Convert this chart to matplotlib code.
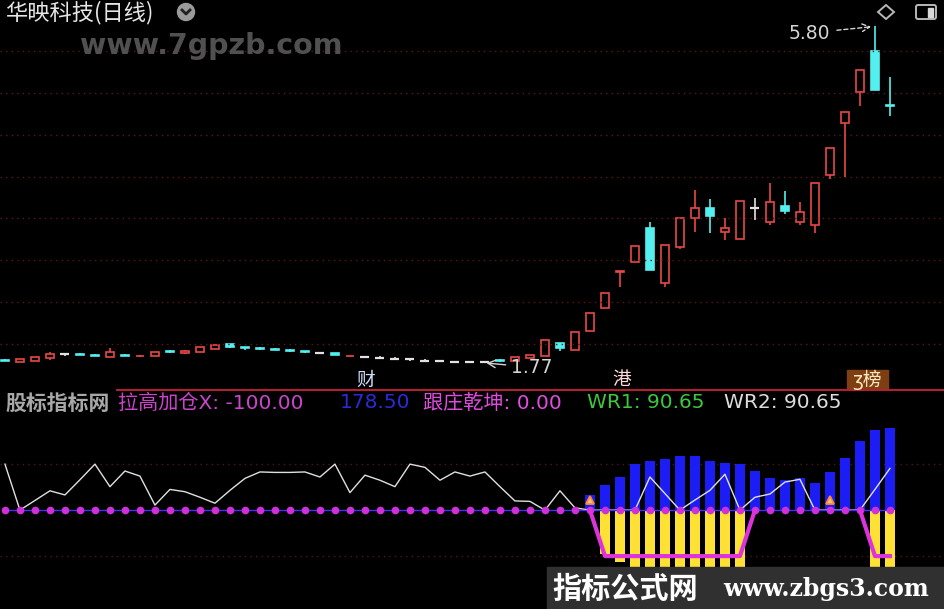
import matplotlib
matplotlib.use("Agg")
import matplotlib.pyplot as plt
import numpy as np
from matplotlib.patches import Circle, FancyBboxPatch, Polygon, Rectangle

plt.rcParams["font.family"] = ["DejaVu Sans", "Noto Sans CJK SC"]
CJK = ["Noto Sans CJK SC", "DejaVu Sans"]

W_PX, H_PX = 945, 609
SPLIT_PX = 389

# ---- daily candles (yuan) ----
opens = [1.81, 1.78, 1.80, 1.83, 1.88, 1.88, 1.87, 1.84, 1.87, 1.85,
         1.85, 1.91, 1.89, 1.90, 1.94, 2.00, 1.96, 1.95, 1.94, 1.93,
         1.91, 1.89, 1.89, 1.85, 1.84, 1.83, 1.82, 1.82, 1.80, 1.80,
         1.78, 1.78, 1.78, 1.81, 1.80, 1.83, 1.85, 2.01, 1.93, 2.15,
         2.43, 2.86, 2.98, 3.39, 2.73, 3.16, 3.50, 3.62, 3.34, 3.25,
         3.62, 3.46, 3.65, 3.46, 3.42, 4.02, 4.64, 5.01, 5.50, 4.85]
highs = [1.82, 1.82, 1.84, 1.90, 1.89, 1.89, 1.88, 1.95, 1.88, 1.87,
         1.90, 1.93, 1.93, 1.96, 1.98, 2.00, 1.96, 1.96, 1.95, 1.94,
         1.92, 1.89, 1.89, 1.86, 1.84, 1.86, 1.84, 1.83, 1.82, 1.81,
         1.79, 1.78, 1.79, 1.82, 1.84, 1.87, 2.04, 2.01, 2.14, 2.37,
         2.61, 2.87, 3.17, 3.46, 3.18, 3.50, 3.84, 3.73, 3.50, 3.71,
         3.74, 3.92, 3.83, 3.69, 3.92, 4.34, 4.77, 5.27, 5.80, 5.19]
lows = [1.80, 1.78, 1.79, 1.81, 1.86, 1.87, 1.85, 1.84, 1.85, 1.84,
        1.85, 1.89, 1.88, 1.90, 1.94, 1.95, 1.93, 1.93, 1.93, 1.90,
        1.89, 1.88, 1.87, 1.84, 1.83, 1.83, 1.82, 1.80, 1.79, 1.78,
        1.78, 1.78, 1.77, 1.78, 1.79, 1.83, 1.85, 1.91, 1.93, 2.15,
        2.43, 2.68, 2.98, 2.88, 2.68, 3.13, 3.34, 3.32, 3.24, 3.25,
        3.48, 3.42, 3.55, 3.42, 3.32, 3.97, 4.00, 4.84, 5.03, 4.72]
closes = [1.80, 1.82, 1.84, 1.88, 1.88, 1.87, 1.86, 1.90, 1.86, 1.86,
          1.90, 1.90, 1.91, 1.96, 1.98, 1.96, 1.95, 1.94, 1.93, 1.92,
          1.90, 1.89, 1.87, 1.86, 1.84, 1.83, 1.82, 1.82, 1.80, 1.80,
          1.78, 1.78, 1.78, 1.80, 1.84, 1.87, 2.04, 1.95, 2.14, 2.37,
          2.61, 2.87, 3.17, 2.88, 3.18, 3.50, 3.62, 3.53, 3.38, 3.71,
          3.62, 3.69, 3.59, 3.58, 3.92, 4.34, 4.77, 5.27, 5.03, 4.84]
price_grid = [2.0, 2.5, 3.0, 3.5, 4.0, 4.5, 5.0, 5.5]

# ---- indicator pane ----
blue_bars = [0, 0, 0, 0, 0, 0, 0, 0, 0, 0,
             0, 0, 0, 0, 0, 0, 0, 0, 0, 0,
             0, 0, 0, 0, 0, 0, 0, 0, 0, 0,
             0, 0, 0, 0, 0, 0, 0, 0, 0, 33,
             54, 72, 100, 107, 111, 117, 117, 107, 102, 100,
             85, 69, 65, 69, 58, 83, 113, 150, 174, 178.5]
yellow_bars = [0, 0, 0, 0, 0, 0, 0, 0, 0, 0,
               0, 0, 0, 0, 0, 0, 0, 0, 0, 0,
               0, 0, 0, 0, 0, 0, 0, 0, 0, 0,
               0, 0, 0, 0, 0, 0, 0, 0, 0, 0,
               -95, -113, -140, -140, -140, -140, -140, -140, -140, -140,
               0, 0, 0, 0, 0, 0, 0, 0, -140, -140]
lagao_x = [0, 0, 0, 0, 0, 0, 0, 0, 0, 0,
           0, 0, 0, 0, 0, 0, 0, 0, 0, 0,
           0, 0, 0, 0, 0, 0, 0, 0, 0, 0,
           0, 0, 0, 0, 0, 0, 0, 0, 0, 0,
           -100, -100, -100, -100, -100, -100, -100, -100, -100, -100,
           0, 0, 0, 0, 0, 0, 0, 0, -100, -100]
genzhuang = [0, 0, 0, 0, 0, 0, 0, 0, 0, 0,
             0, 0, 0, 0, 0, 0, 0, 0, 0, 0,
             0, 0, 0, 0, 0, 0, 0, 0, 0, 0,
             0, 0, 0, 0, 0, 0, 0, 0, 0, 0,
             0, 0, 0, 0, 0, 0, 0, 0, 0, 0,
             0, 0, 0, 0, 0, 0, 0, 0, 0, 0]
wr_line = [100, 0, 21, 42, 33, 66, 100, 51, 85, 74,
           11, 45, 40, 28, 15, 43, 69, 83, 82, 82,
           83, 72, 100, 38, 76, 65, 51, 100, 93, 65,
           83, 74, 83, 51, 20, 19, 0, 42, 5, 0,
           0, 0, 0, 72, 36, 0, 22, 43, 78, 0,
           28, 35, 61, 67, 0, 0, 0, 0, 45, 90.65]
wr_grid = [100, -100]
signal_idx = [39, 55]

RED = "#e84848"
CYAN = "#54f0f0"
DOJI = "#e2e2e2"
GRID = "#5e1616"
MAGENTA = "#dd33dd"

fig = plt.figure(figsize=(W_PX / 100, H_PX / 100), dpi=100, facecolor="black")
ax_p = fig.add_axes([0, 1 - SPLIT_PX / H_PX, 1, SPLIT_PX / H_PX])
ax_i = fig.add_axes([0, 0, 1, (H_PX - SPLIT_PX - 2) / H_PX])
for ax in (ax_p, ax_i):
    ax.set_xlim(-0.33, 62.67)
    ax.axis("off")

# ---- price pane ----
ax_p.set_ylim(1.46, 6.11)
for level in price_grid:
    ax_p.axhline(level, color=GRID, lw=1, ls=(0, (1, 3)))

o = np.array(opens)
h = np.array(highs)
l = np.array(lows)
c = np.array(closes)
x = np.arange(len(o))
top = np.maximum(o, c)
bot = np.minimum(o, c)
up = c > o
down = c < o
flat = ~(up | down)
edge = np.where(up, RED, np.where(down, CYAN, DOJI))
face = np.where(up, "black", np.where(down, CYAN, DOJI))

ax_p.vlines(x, top, h, colors=edge, lw=1.2)
ax_p.vlines(x, l, bot, colors=edge, lw=1.2)
body = ~flat
ax_p.bar(x[body], (top - bot)[body], bottom=bot[body], width=0.58,
         color=face[body], edgecolor=edge[body], linewidth=1.2)
ax_p.hlines(c[flat], x[flat] - 0.3, x[flat] + 0.3, colors=edge[flat], lw=1.6)

i_hi = int(np.argmax(h))
i_lo = int(np.argmin(l))
ax_p.annotate(f"{h[i_hi]:.2f}", xy=(i_hi - 0.25, h[i_hi] - 0.01),
              xytext=(i_hi - 3.0, h[i_hi] - 0.085), ha="right", va="center",
              color="#d4d4d4", fontsize=13.5,
              arrowprops=dict(arrowstyle="->", color="#d4d4d4", lw=1,
                              ls=(0, (3, 2)), shrinkA=3, shrinkB=0))
ax_p.annotate(f"{l[i_lo]:.2f}", xy=(i_lo + 0.1, l[i_lo]),
              xytext=(i_lo + 1.75, l[i_lo] - 0.05), ha="left", va="center",
              color="#d4d4d4", fontsize=13.5,
              arrowprops=dict(arrowstyle="->", color="#d4d4d4", lw=1,
                              shrinkA=2, shrinkB=0))

# ---- indicator pane ----
ax_i.set_ylim(-215, 259)
for level in wr_grid:
    ax_i.axhline(level, color="#4e1818", lw=1, ls=(0, (1, 3)))
ax_i.bar(x, blue_bars, width=0.66, color="#1c1cf4", zorder=2)
ax_i.bar(x, yellow_bars, width=0.66, color="#ffe135", zorder=2)
ax_i.plot(x, wr_line, color="#e0e0e0", lw=1.0, zorder=3)
ax_i.plot(x, genzhuang, color="#4030ff", lw=1, zorder=4)
ax_i.plot(x, genzhuang, ls="none", marker="o", ms=4.5, color="#d030d8", zorder=5)
lg = np.array(lagao_x, dtype=float)
nz = lg != 0
keep = nz | np.r_[nz[1:], False] | np.r_[False, nz[:-1]]
ax_i.plot(x, np.where(keep, lg, np.nan), color=MAGENTA, lw=3, zorder=5)
ax_i.plot(signal_idx, [22] * len(signal_idx), ls="none", marker="^", ms=6,
          mfc="#ffc080", mec="#ff8a30", mew=1.3, zorder=6)

# ---- overlay in pixel space ----
ax_d = fig.add_axes([0, 0, 1, 1], zorder=10)
ax_d.set_xlim(0, W_PX)
ax_d.set_ylim(H_PX, 0)
ax_d.axis("off")

ax_d.text(5, 13, "华映科技(日线)", color="#e6e6e6", fontsize=16, va="center",
          family=CJK)
ax_d.add_patch(Circle((186, 12), 8.5, color="#9a9a9a"))
ax_d.plot([182, 186, 190], [10, 14, 10], color="#202020", lw=2)
ax_d.text(80, 46, "www.7gpzb.com", color="#505050", fontsize=20.5,
          fontweight="bold", va="center")
ax_d.add_patch(Polygon([(878, 12), (886, 5), (894, 12), (886, 19)],
                       closed=True, fill=False, edgecolor="#b8b8b8", lw=1.4))
ax_d.add_patch(FancyBboxPatch((916, 5), 20, 14, boxstyle="round,pad=0,rounding_size=2",
                              fill=False, edgecolor="#b8b8b8", lw=1.4))
ax_d.add_patch(Rectangle((928, 7.5), 5, 9, color="#d8d8d8"))

ax_d.text(366, 380, "财", color="#cfe0ff", fontsize=13.5, ha="center", va="center",
          family=CJK)
ax_d.text(622, 380, "港", color="#ffdada", fontsize=13.5, ha="center", va="center",
          family=CJK)
ax_d.add_patch(Rectangle((847, 370), 41, 19, color="#7d3f12"))
ax_d.text(867, 380, "ʒ榜", color="#ffe8c0", fontsize=13.5, ha="center", va="center",
          family=CJK)
ax_d.plot([117, W_PX], [389.5, 389.5], color="#b02030", lw=1.5)

hdr_y = 403
hdr_size = 14.5
ax_d.text(5, hdr_y, "股标指标网", color="#a8a8a8", fontsize=15,
          fontweight="bold", va="center", family=CJK)
ax_d.text(118, hdr_y, f"拉高加仓X: {lagao_x[-1]:.2f}", color="#cc44cc",
          fontsize=hdr_size, va="center")
ax_d.text(340, hdr_y, f"{blue_bars[-1]:.2f}", color="#2a2ad8", fontsize=hdr_size,
          va="center")
ax_d.text(423, hdr_y, f"跟庄乾坤: {genzhuang[-1]:.2f}", color="#e04ce0",
          fontsize=hdr_size, va="center")
ax_d.text(587, hdr_y, f"WR1: {wr_line[-1]:.2f}", color="#3cc83c",
          fontsize=hdr_size, va="center")
ax_d.text(724, hdr_y, f"WR2: {wr_line[-1]:.2f}", color="#dcdcdc",
          fontsize=hdr_size, va="center")

ax_d.add_patch(Rectangle((547, 567), W_PX - 547, H_PX - 567, color="#303030"))
ax_d.text(552, 589, "指标公式网", color="white", fontsize=21, fontweight="bold",
          va="center", family=CJK)
ax_d.text(723, 589, "www.zbgs3.com", color="white", fontsize=17,
          fontweight="bold", va="center", family="DejaVu Serif")

fig.savefig("out.png", dpi=100, facecolor="black")
